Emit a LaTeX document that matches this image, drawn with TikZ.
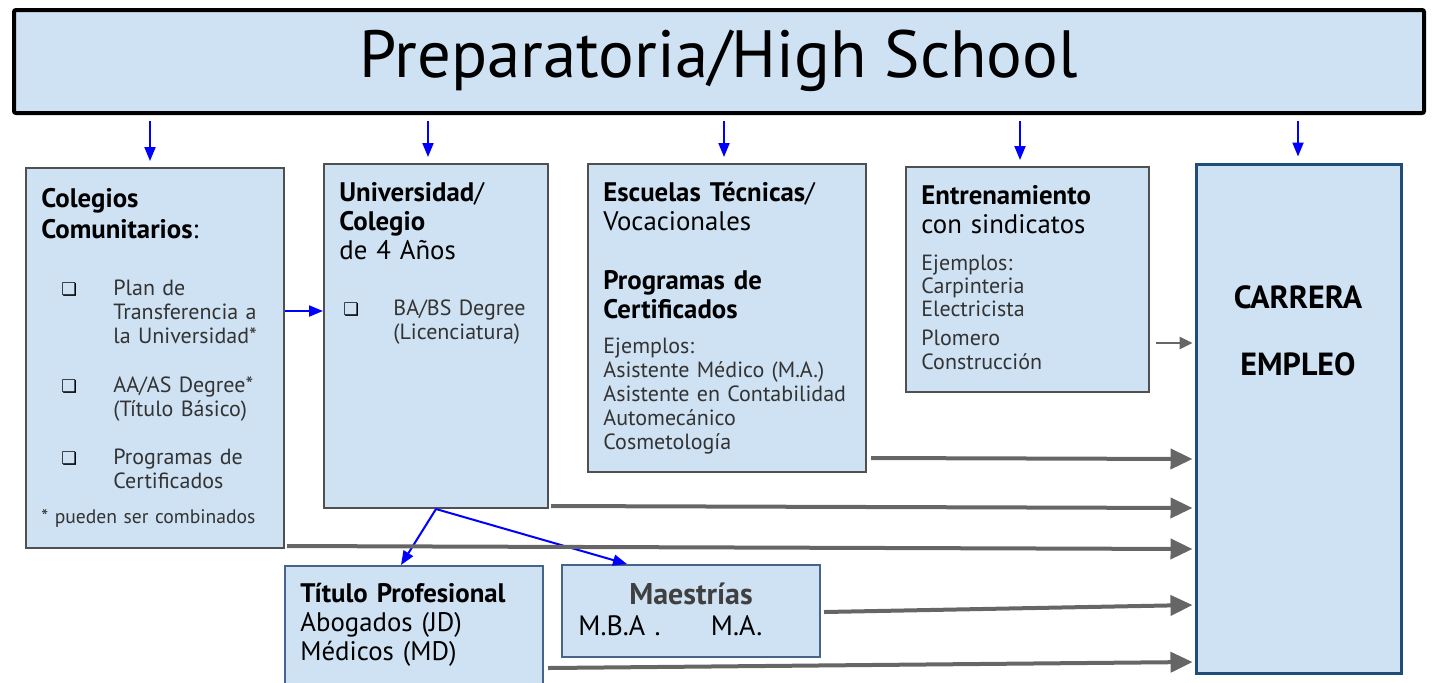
\documentclass[tikz,border=0pt]{standalone}
\usepackage{fontspec}
\setmainfont{PT Sans}
\newfontfamily\symfont{DejaVu Sans}
\usetikzlibrary{positioning,fit,arrows.meta}

\definecolor{boxfill}{HTML}{CFE2F3}
\definecolor{boxline}{HTML}{505050}
\definecolor{navyline}{HTML}{1F4E79}
\definecolor{slateline}{HTML}{46658A}
\definecolor{arrowgray}{HTML}{666666}
\definecolor{textgray}{HTML}{333333}

\newcommand{\sqbox}{{\symfont\char"274F}}

\begin{document}
\begin{tikzpicture}[
x=0.5pt, y=-0.5pt,
box/.style={draw=boxline, line width=1pt, fill=boxfill, inner sep=0pt},
titlebox/.style={draw=black, line width=2pt, fill=boxfill, inner sep=0pt, rounded corners=1pt},
exitbox/.style={draw=navyline, line width=1.5pt, fill=boxfill, inner sep=0pt},
gradbox/.style={draw=slateline, line width=1pt, fill=boxfill, inner sep=0pt},
head/.style={anchor=base west, inner sep=0pt, text width=140pt, align=left, font=\fontsize{13.4}{14.5}\selectfont},
body/.style={anchor=base west, inner sep=0pt, text width=140pt, align=left, text=textgray, font=\fontsize{11}{12}\selectfont},
bullet/.style={anchor=base west, inner sep=0pt, font=\fontsize{8.8}{10}\selectfont},
bigword/.style={anchor=base, inner sep=0pt, font=\fontsize{16}{18}\selectfont\bfseries},
bluearr/.style={draw=blue, line width=1pt, -{Triangle[length=7pt,width=5.5pt]}},
grayarr/.style={draw=arrowgray, line width=2pt, -{Triangle[length=11pt,width=10pt]}},
thingray/.style={draw=arrowgray, line width=1.3pt, -{Triangle[length=6.5pt,width=6pt]}},
]
\useasboundingbox (0,0) rectangle (1438,682);
\clip (0,0) rectangle (1438,682);

%Boxes
\node[titlebox, fit={(14,10)(1424,113)}] (hs) {};
\node[inner sep=0pt, font=\fontsize{33.4}{38}\selectfont] (hstext) at ([yshift=0.5pt]hs.center) {Preparatoria/High School};

\node[box, fit={(26,168)(284,548)}] (colegios) {};
\node[box, fit={(324,164)(548,508)}] (univ) {};
\node[box, fit={(588,164)(866,472)}] (escuelas) {};
\node[box, fit={(906,167)(1149,392)}] (entrena) {};
\node[exitbox, fit={(1196,164)(1401,673)}] (carrera) {};
\node[gradbox, fit={(285,566)(543,700)}] (titulo) {};
\node[gradbox, fit={(562,565)(820,657)}] (maestrias) {};

%Texts
\node[head, font=\fontsize{13.4}{15.5}\selectfont] (colhead) at (41,207) {\textbf{Colegios}\\\textbf{Comunitarios}:};
\node[bullet] (colb1) at (61,295) {\sqbox};
\node[body] (colplan) at (113,295) {Plan de\\Transferencia a\\la Universidad*};
\node[bullet] (colb2) at (61,392) {\sqbox};
\node[body] (colaa) at (113,392) {AA/AS Degree*\\(Título Básico)};
\node[bullet] (colb3) at (61,464) {\sqbox};
\node[body] (colprog) at (113,464) {Programas de\\Certificados};
\node[body, font=\fontsize{9.8}{11}\selectfont] (colnote) at (41,523) {* pueden ser combinados};

\node[head] (univhead) at (339,201) {\textbf{Universidad}/\\\textbf{Colegio}\\de 4 Años};
\node[bullet] (univb1) at (343,315) {\sqbox};
\node[body] (univba) at (393,315) {BA/BS Degree\\(Licenciatura)};

\node[head] (eschead) at (603,201) {\textbf{Escuelas Técnicas}/\\Vocacionales};
\node[head] (escprog) at (603,289) {\textbf{Programas de}\\\textbf{Certificados}};
\node[body] (escej) at (603,353) {Ejemplos:\\Asistente Médico (M.A.)\\Asistente en Contabilidad\\Automecánico\\Cosmetología};

\node[head] (enthead) at (921,204) {\textbf{Entrenamiento}\\con sindicatos};
\node[body, font=\fontsize{11}{11.7}\selectfont] (entej) at (921,270) {Ejemplos:\\Carpinteria\\Electricista};
\node[body] (entplo) at (921,345) {Plomero\\Construcción};

\node[bigword] (carr) at (1298,308) {CARRERA};
\node[bigword] (empl) at (1298,375) {EMPLEO};

\node[head] (tithead) at (300,602) {\textbf{Título Profesional}\\Abogados (JD)\\Médicos (MD)};
\node[head, anchor=base, text width=, text=black!75, font=\fontsize{15}{17}\selectfont\bfseries] (maehead) at (691,604) {Maestrías};
\node[head, font=\fontsize{14}{16}\selectfont] (maedeg) at (578,635) {M.B.A .\hspace{1.8em}M.A.};

%Lines
\foreach \x/\b in {150/colegios,428/univ,724/escuelas,1020/entrena,1298/carrera}
  \draw[bluearr, shorten >=3pt] ([yshift=-3pt]hs.south -| \x,0) -- (\b.north -| \x,0);
\draw[bluearr] (colegios.east |- 0,311) -- (univ.west |- 0,311);
\draw[bluearr] (univ.south) -- (titulo.north -| 401,0);
\draw[bluearr] (univ.south) -- (maestrias.north -| 627,0);

\draw[thingray] ([xshift=3pt]entrena.east |- 0,343) -- ([xshift=-1pt]carrera.west |- 0,343);
\draw[grayarr] ([xshift=2pt]escuelas.east |- 0,458) -- ([xshift=-1pt]carrera.west |- 0,459);
\draw[grayarr] ([xshift=1pt]univ.east |- 0,506) -- ([xshift=-1pt]carrera.west |- 0,508);
\draw[grayarr] ([xshift=1pt]colegios.east |- 0,546) -- ([xshift=-1pt]carrera.west |- 0,549);
\draw[grayarr] ([xshift=1.5pt]maestrias.east |- 0,612) -- ([xshift=-1pt]carrera.west |- 0,605);
\draw[grayarr] ([xshift=2pt]titulo.east |- 0,668) -- ([xshift=-1pt]carrera.west |- 0,662);
\end{tikzpicture}
\end{document}
